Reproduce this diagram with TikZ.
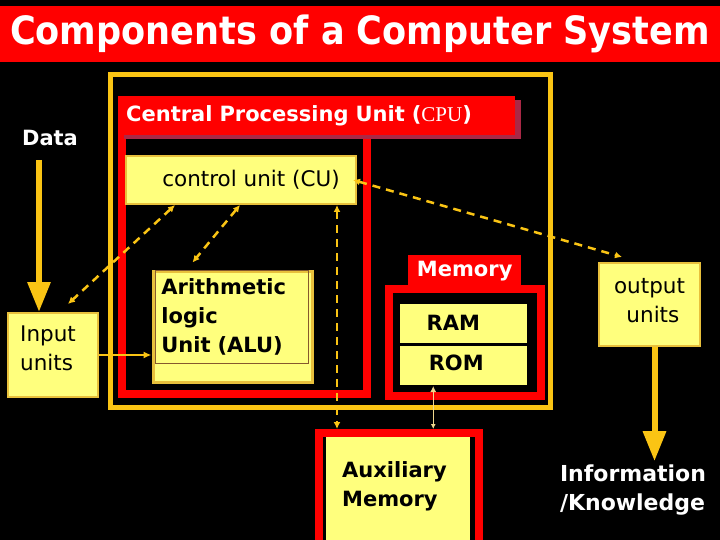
\documentclass[tikz,border=0pt]{standalone}
\usepackage{fontspec}
\setmainfont{DejaVu Sans}
\newfontfamily\headfont{DejaVu Sans}[FakeStretch=0.9]
\newfontfamily\cpufont{Liberation Serif}
\usetikzlibrary{fit,arrows.meta,shadows}

\definecolor{gold}{RGB}{250,196,20}
\definecolor{boxyellow}{RGB}{255,255,125}
\definecolor{boxedge}{RGB}{232,192,60}
\definecolor{shadowred}{RGB}{170,40,70}
\definecolor{wirepale}{RGB}{240,215,140}

\begin{document}
\begin{tikzpicture}[x=1pt, y=-1pt,
        ybox/.style={draw=boxedge, line width=2pt, fill=boxyellow, inner sep=0pt},
        redframe/.style={draw=red, line width=8pt, inner sep=0pt},
        bigtxt/.style={font=\bfseries\fontsize{21}{29}\selectfont, align=left},
        plaintxt/.style={font=\fontsize{21.5}{29}\selectfont, align=left},
        dashwire/.style={gold, line width=2.5pt, dash pattern=on 8pt off 6pt,
            {Latex[length=7pt,width=7pt]}-{Latex[length=7pt,width=7pt]}},
        fatarrow/.style={gold, line width=6pt, -{Triangle[length=30pt,width=22pt]}}]

        \useasboundingbox (0,0) rectangle (720,540);
        \clip (0,0) rectangle (720,540);
        \fill[black] (0,0) rectangle (720,540);

        \node[fill=red, minimum width=720pt, minimum height=56pt, inner sep=0pt, text=white,
              font=\headfont\bfseries\fontsize{39}{42}\selectfont] (title) at (360,34) {Components of a Computer System};

        % frames
        \node[draw=gold, line width=5pt, inner sep=0pt, fit={(110,74.5) (550,407)}] (system) {};
        \node[redframe, fit={(122,135) (367,394)}] (cpu) {};
        \node[fill=red, drop shadow={fill=shadowred, opacity=1, shadow xshift=6pt, shadow yshift=-4pt},
              anchor=north west, minimum width=397pt, minimum height=39pt, inner xsep=8pt, text width=381pt,
              align=left, text=white, font=\bfseries\fontsize{21}{24}\selectfont] (cputitle) at (118,96)
              {Central Processing Unit ({\cpufont\mdseries CPU})};

        \node[ybox, fit={(126,156) (356,204)}, label={[xshift=10pt, plaintxt]center:control unit (CU)}] (cu) {};

        \node[ybox, line width=3pt, fit={(153,271) (312,382)}] (alu) {};
        \node[draw=brown!70!black, line width=0.8pt, anchor=north west, text width=141pt, inner xsep=6pt,
              minimum height=93pt, bigtxt] (alutext) at (155,270) {Arithmetic\\logic\\Unit (ALU)};

        \node[redframe, fit={(389,289) (541,396)}] (memory) {};
        \node[fill=red, anchor=north west, minimum width=113pt, minimum height=31pt, inner sep=0pt, text=white,
              font=\bfseries\fontsize{21}{22}\selectfont] (memtab) at (408,255) {Memory};
        \node[fill=boxyellow, draw=black, line width=1.5pt, anchor=north west, minimum width=129pt,
              minimum height=41pt, inner sep=0pt, label={[xshift=-10pt, bigtxt]center:RAM}] (ram) at (398,302) {};
        \node[fill=boxyellow, draw=black, line width=1.5pt, anchor=north, minimum width=129pt,
              minimum height=40pt, inner sep=0pt, label={[xshift=-7pt, yshift=2pt, bigtxt]center:ROM}] (rom) at (ram.south) {};

        \node[redframe, fit={(319,433) (479,560)}] (auxframe) {};
        \node[fill=boxyellow, anchor=north west, minimum width=144pt, minimum height=115pt, inner sep=0pt] (aux) at (326,437) {};
        \node[bigtxt, anchor=north west, inner sep=0pt] (auxtext) at (342,461) {Auxiliary\\Memory};

        \node[ybox, fit={(8,313) (98,397)}, label={[xshift=-5pt, yshift=7pt, plaintxt]center:Input\\units}] (input) {};
        \node[ybox, fit={(599,263) (700,346)}, label={[yshift=4pt, plaintxt, align=center]center:output\\\ units}] (output) {};

        \node[text=white, font=\bfseries\fontsize{21}{24}\selectfont] (data) at (50,138) {Data};
        \node[bigtxt, font=\bfseries\fontsize{22}{29}\selectfont, text=white] (info) at (633,490) {Information\\/Knowledge};

        % connectors
        \coordinate (datain) at (39,160);
        \draw[fatarrow] (datain) -- (datain |- input.north);
        \draw[fatarrow] ([xshift=5pt]output.south) -- ([xshift=5pt]output.south |- info.north);
        \draw[gold, line width=2.5pt, -{Latex[length=8pt,width=7pt]}] (input.east) -- (input.east -| alu.west);

        \draw[dashwire] ([xshift=-4pt]cu.east) -- ([xshift=24pt,yshift=5pt]output.north west);
        \draw[dashwire] ([xshift=-66pt]cu.south) -- ([xshift=15pt,yshift=8pt]input.north);
        \draw[dashwire] ([xshift=-1pt]cu.south) -- ([xshift=-40pt,yshift=7pt]alu.north);
        \draw[dashwire] ([xshift=96pt]cu.south) -- ([xshift=96pt]cu.south |- auxframe.north);
        \draw[wirepale, line width=1.5pt, {Latex[length=6pt,width=6pt]}-{Latex[length=5pt,width=5pt]}]
              ([xshift=-30pt]rom.south) -- ([xshift=-30pt]rom.south |- auxframe.north);
    \end{tikzpicture}
\end{document}
